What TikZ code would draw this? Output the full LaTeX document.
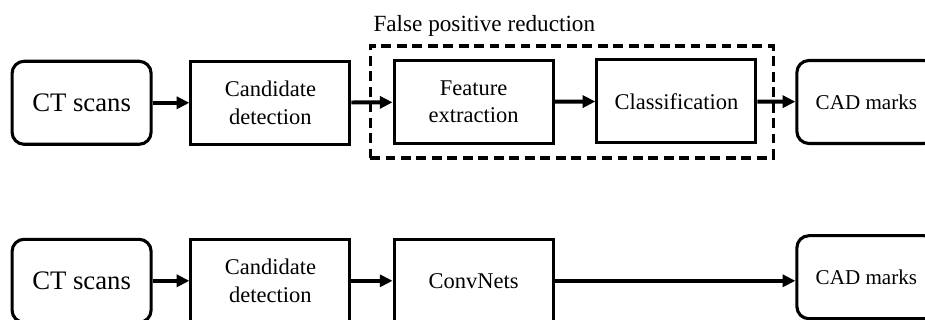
\documentclass[tikz,border=0pt]{standalone}
\usepackage{fontspec}
\setmainfont{Liberation Serif}
\usetikzlibrary{arrows.meta}
\begin{document}
\begin{tikzpicture}[
  stage/.style={draw, line width=2.2pt, minimum width=3.975cm, minimum height=2.075cm,
    align=center, font=\fontsize{16}{19.5}\selectfont},
  endpoint/.style={stage, rounded corners=0.3cm, minimum width=3.475cm},
  flow/.style={line width=2.8pt, -{Triangle[length=9pt,width=8.5pt]}}
]
  \useasboundingbox (0,0) rectangle (23.125,8);
  \clip (0,0) rectangle (23.125,8);
  % classical CAD pipeline
  \node[endpoint, font=\fontsize{19}{22}\selectfont] (ctA) at (2.04,5.43) {CT scans};
  \node[stage] (candA) at (6.76,5.43) {Candidate\\detection};
  \node[stage] (feat) at (11.84,5.45) {Feature\\extraction};
  \node[stage] (class) at (16.91,5.47) {Classification};
  \node[endpoint, font=\fontsize{15}{18}\selectfont] (cadA) at (21.66,5.45) {CAD marks};
  \node[draw, line width=2.2pt, dash pattern=on 7pt off 4pt,
    minimum width=10.075cm, minimum height=2.8cm] (fpr) at (14.29,5.45) {};
  \node[anchor=base west, font=\fontsize{16.5}{19.5}\selectfont] (fprlabel)
    at ([yshift=0.33cm]fpr.north west) {False positive reduction};
  \draw[flow] (ctA) -- (candA);
  \draw[flow] (candA) -- (feat);
  \draw[flow] (feat) -- (class);
  \draw[flow] (class) -- (cadA);
  % ConvNet pipeline
  \node[endpoint, font=\fontsize{19}{22}\selectfont] (ctB) at (2.04,0.98) {CT scans};
  \node[stage] (candB) at (6.76,0.98) {Candidate\\detection};
  \node[stage] (conv) at (11.84,0.98) {ConvNets};
  \node[endpoint, font=\fontsize{15}{18}\selectfont] (cadB) at (21.66,1.07) {CAD marks};
  \draw[flow] (ctB) -- (candB);
  \draw[flow] (candB) -- (conv);
  \draw[flow] (conv) -- (conv -| cadB.west);
\end{tikzpicture}
\end{document}
